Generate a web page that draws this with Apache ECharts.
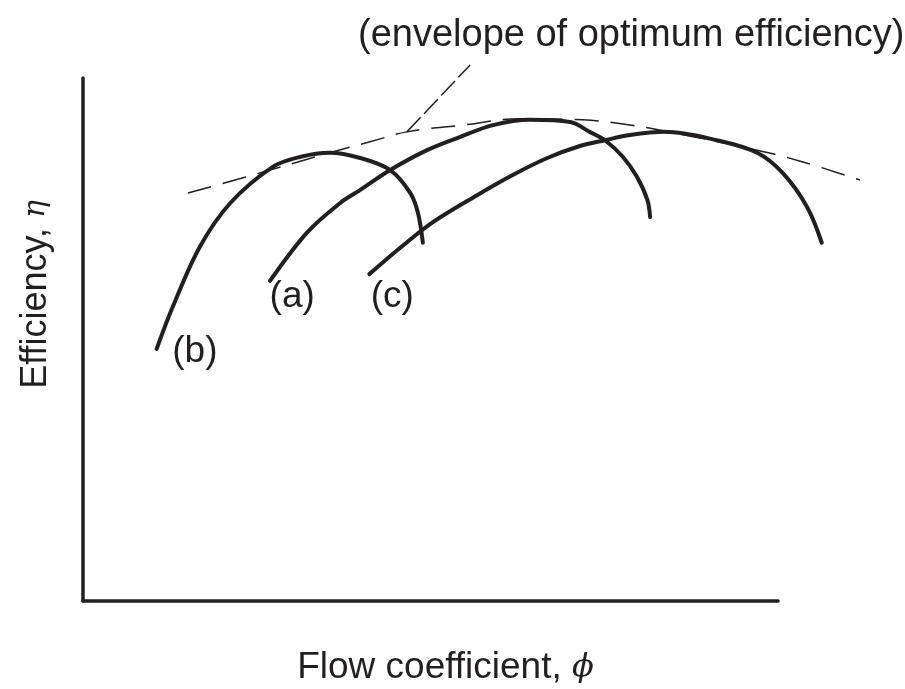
<!DOCTYPE html>
<html>
<head>
<meta charset="utf-8">
<title>Efficiency vs flow coefficient</title>
<script src="https://cdn.jsdelivr.net/npm/echarts@6/dist/echarts.min.js"></script>
<style>
  html, body { margin: 0; padding: 0; background: #fff; }
  #chart { width: 905px; height: 689px; }
</style>
</head>
<body>
<div id="chart"></div>
<script>
// schematic units: flow coefficient 0..100, efficiency 0..100 (no ticks in the figure)
const curveB = [
  [10.6, 48.2], [12.9, 56.2], [16.8, 67.7], [21.2, 76.1], [27.3, 83.0], [31.2, 84.9],
  [35.5, 85.7], [39.9, 84.7], [44.2, 82.4], [47.1, 78.0], [48.2, 74.2], [48.9, 68.5]
]
const curveA = [
  [26.9, 61.2], [32.2, 70.4], [37.0, 76.1], [39.9, 78.6], [44.2, 82.4], [49.5, 86.2],
  [54.2, 88.7], [59.0, 91.0], [64.3, 92.0], [70.1, 91.6], [72.9, 89.7], [75.1, 88.1],
  [77.7, 84.9], [79.7, 81.1], [81.2, 76.7], [81.6, 73.4]
]
const curveC = [
  [41.2, 62.5], [45.6, 67.5], [50.4, 72.5], [56.7, 77.6], [61.9, 81.5], [66.8, 84.7],
  [71.5, 87.0], [75.1, 88.1], [78.7, 89.1], [83.7, 89.7], [91.2, 88.1], [97.0, 85.7],
  [100.7, 81.8], [104.2, 75.3], [106.3, 68.5]
]
const envelope = [
  [15.1, 78.0], [24.0, 81.3], [35.5, 85.7], [41.3, 87.8], [46.6, 89.7], [54.7, 91.0],
  [62.9, 92.2], [71.9, 92.0], [78.7, 91.0], [83.5, 89.9], [97.0, 86.2], [103.2, 84.1],
  [111.8, 80.5]
]
const leader = [[46.6, 89.7], [55.7, 102.5]]
const curveLabels = [
  { name: '(b)', value: [16.1, 47.6] },
  { name: '(a)', value: [30.1, 58.1] },
  { name: '(c)', value: [44.5, 58.1] }
]
const annotation = '(envelope of optimum efficiency)'

const ink = '#231f20'
const font = 'Liberation Sans, Arial, Helvetica, sans-serif'
const greek = 'DejaVu Serif, serif'

// the drawn axes stop at 100, but curve (c) and the envelope run past the end,
// so the marks go on a second, wider grid with the same scale
const axisEnd = 100
const plotEnd = 115
const unitPx = 6.95

const chart = echarts.init(document.getElementById('chart'))

function curve(name, data) {
  return {
    name,
    type: 'line',
    xAxisIndex: 1,
    yAxisIndex: 1,
    data,
    smooth: 0.35,
    showSymbol: false,
    clip: false,
    silent: true,
    lineStyle: { color: ink, width: 4, cap: 'round' }
  }
}

const hiddenAxis = {
  type: 'value',
  min: 0,
  show: false,
  splitLine: { show: false }
}

const option = {
  animation: false,
  backgroundColor: '#fff',
  title: {
    text: annotation,
    left: 358,
    top: 17,
    padding: 0,
    textStyle: { color: ink, fontFamily: font, fontSize: 38, fontWeight: 'normal' }
  },
  grid: [
    { left: 83, top: 78, width: axisEnd * unitPx, height: 523, outerBoundsMode: 'none' },
    { left: 83, top: 78, width: plotEnd * unitPx, height: 523, outerBoundsMode: 'none' }
  ],
  xAxis: [
    {
      type: 'value',
      gridIndex: 0,
      min: 0,
      max: axisEnd,
      name: 'Flow coefficient, {i|ϕ}',
      nameLocation: 'middle',
      nameGap: 48,
      nameTextStyle: {
        color: ink, fontFamily: font, fontSize: 37,
        padding: [0, 0, 0, 30],
        rich: { i: { fontStyle: 'italic', fontSize: 32, fontFamily: greek, color: ink } }
      },
      axisLine: { lineStyle: { color: ink, width: 3.5 } },
      axisTick: { show: false },
      axisLabel: { show: false },
      splitLine: { show: false }
    },
    Object.assign({ gridIndex: 1, max: plotEnd }, hiddenAxis)
  ],
  yAxis: [
    {
      type: 'value',
      gridIndex: 0,
      min: 0,
      max: 100,
      name: 'Efficiency, {i|η}',
      nameLocation: 'middle',
      nameGap: 29,
      nameTextStyle: {
        color: ink, fontFamily: font, fontSize: 36,
        padding: [0, 0, 0, 90],
        rich: { i: { fontStyle: 'italic', fontSize: 30, fontFamily: greek, color: ink } }
      },
      axisLine: { lineStyle: { color: ink, width: 3.5 } },
      axisTick: { show: false },
      axisLabel: { show: false },
      splitLine: { show: false }
    },
    Object.assign({ gridIndex: 1, max: 100 }, hiddenAxis)
  ],
  series: [
    curve('b', curveB),
    curve('a', curveA),
    curve('c', curveC),
    {
      name: 'envelope',
      type: 'line',
      xAxisIndex: 1,
      yAxisIndex: 1,
      data: envelope,
      smooth: 0.4,
      showSymbol: false,
      clip: false,
      silent: true,
      lineStyle: { color: ink, width: 1.5, type: [24, 12] }
    },
    {
      name: 'leader',
      type: 'line',
      xAxisIndex: 1,
      yAxisIndex: 1,
      data: leader,
      showSymbol: false,
      clip: false,
      silent: true,
      lineStyle: { color: ink, width: 1.5, type: [20, 5] }
    },
    {
      name: 'labels',
      type: 'scatter',
      xAxisIndex: 1,
      yAxisIndex: 1,
      data: curveLabels,
      symbolSize: 0,
      silent: true,
      itemStyle: { opacity: 1, color: ink },
      label: {
        show: true,
        position: 'inside',
        formatter: '{b}',
        color: ink,
        fontFamily: font,
        fontSize: 37
      }
    }
  ]
}

chart.setOption(option)
</script>
</body>
</html>
